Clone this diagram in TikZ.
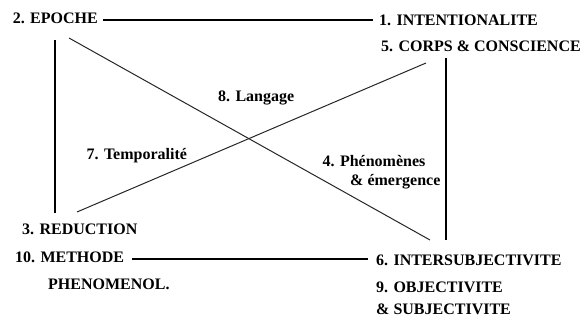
\documentclass[tikz,border=0pt]{standalone}
\usepackage{fontspec}
\setmainfont{Liberation Serif}
\begin{document}
\begin{tikzpicture}[x=1pt,y=-1pt,
  lbl/.style={font=\fontsize{16}{19}\selectfont\bfseries, inner sep=0pt, anchor=base west},
  heavy/.style={line width=2.6pt},
  thinline/.style={line width=1pt, black!85}]
\useasboundingbox (0,0) rectangle (587,320);
\node[lbl] (n2) at (12.7,23.5) {2. EPOCHE};
\node[lbl] (n1) at (379,26) {1. INTENTIONALITE};
\node[lbl] (n5) at (381,52) {5. CORPS \& CONSCIENCE};
\node[lbl] (n8) at (218,102) {8. Langage};
\node[lbl] (n7) at (86.5,160) {7. Temporalité};
\node[lbl] (n4a) at (322.5,166.5) {4. Phénomènes};
\node[lbl] (n4b) at (350,186) {\& émergence};
\node[lbl] (n3) at (22,235) {3. REDUCTION};
\node[lbl] (n10a) at (15,263) {10. METHODE};
\node[lbl] (n10b) at (48,290) {PHENOMENOL.};
\node[lbl] (n6) at (376,266) {6. INTERSUBJECTIVITE};
\node[lbl] (n9a) at (376,293) {9. OBJECTIVITE};
\node[lbl] (n9b) at (376,315) {\& SUBJECTIVITE};
% heavy frame lines
\draw[heavy] ([shift={(5pt,3.5pt)}]n2.base east) -- ([shift={(-6pt,6pt)}]n1.base west);
\draw[heavy] ([shift={(7.5pt,4pt)}]n10a.base east) -- ([shift={(-8pt,7pt)}]n6.base west);
\draw[heavy] ([shift={(42.3pt,-16.5pt)}]n2.base west) -- ([shift={(33pt,22pt)}]n3.base west);
\draw[heavy] ([shift={(65pt,-6pt)}]n5.base west) -- ([shift={(70pt,26pt)}]n6.base west);
% diagonals
\draw[thinline] ([shift={(56.3pt,-14.5pt)}]n2.base west) -- ([shift={(54pt,26pt)}]n6.base west);
\draw[thinline] ([shift={(55pt,23pt)}]n3.base west) -- ([shift={(45pt,-11pt)}]n5.base west);
\end{tikzpicture}
\end{document}
